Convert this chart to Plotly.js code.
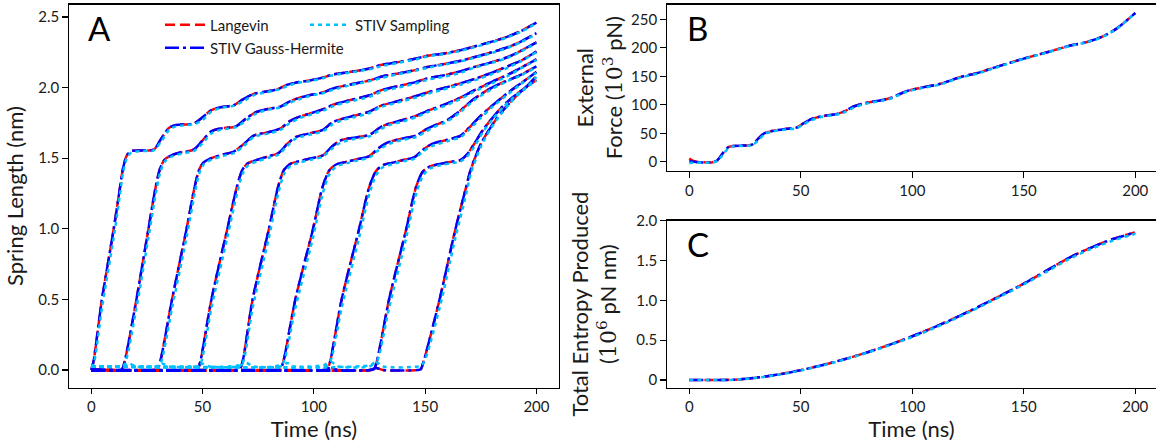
<!DOCTYPE html>
<html>
<head>
<meta charset="utf-8">
<script src="https://cdn.plot.ly/plotly-3.0.1.min.js"></script>
<style>html,body{margin:0;padding:0;background:#fff;}#chart{width:1156px;height:442px;}</style>
</head>
<body>
<div id="chart"></div>
<script>
// ---------- Panel A: spring lengths (nm) of 9 springs vs time (ns) ----------
const springTime = [
  [0, 1, 4.8, 10, 12.8, 14.3, 16, 18, 23, 28, 31.5, 35, 38, 46, 50, 54, 58, 64, 68.5, 73, 78, 84, 88, 92, 98, 104, 108, 116, 125, 130, 138, 146, 151, 158, 166, 172, 180, 187, 193, 200],
  [0, 12.5, 13.8, 15, 20.3, 25.6, 29, 31, 33, 36, 40, 46, 50, 54, 58, 65, 69.5, 74, 80, 85, 89, 93, 98, 104, 109, 116, 125, 131, 138, 146, 151, 158, 166, 172, 180, 187, 193, 200],
  [0, 28.5, 29.8, 31, 36.3, 42.7, 46.5, 48.5, 50.5, 54, 59, 64, 68.5, 73, 80, 85, 89, 93, 98, 104, 109, 116, 125, 131, 138, 146, 151, 158, 166, 172, 180, 187, 193, 200],
  [0, 46.5, 47.8, 49, 54, 61, 65.5, 68, 70.5, 75, 80, 84, 88, 92, 98, 104, 108, 112, 118, 125, 130, 138, 146, 151, 158, 166, 172, 180, 187, 193, 200],
  [0, 65.4, 66.7, 68, 72.5, 79.7, 84, 86.7, 89.5, 94, 99, 104, 108, 112, 118, 125, 130, 134, 140, 146, 151, 158, 166, 172, 180, 187, 193, 200],
  [0, 83.7, 85, 86.3, 91.7, 99.5, 104, 107, 110, 115, 120, 125, 129, 133, 140, 146, 150, 154, 160, 166, 172, 180, 187, 193, 200],
  [0, 104.7, 106, 107.3, 112.5, 120.2, 125, 128, 131, 136, 141, 145, 149, 153, 160, 166, 170, 175, 180, 187, 193, 200],
  [0, 125.7, 127, 128.3, 133.8, 141.4, 146, 149, 152, 157, 162, 166, 169, 172, 176, 180, 185, 190, 195, 200],
  [0, 14, 17, 20, 29, 32, 35, 47, 50, 53, 66, 69.5, 73, 85, 88, 91, 105, 108, 111, 125, 128, 131, 146.7, 148, 149.3, 156.5, 163.5, 168.5, 170.5, 175, 179.5, 184, 188.5, 194, 200]
];
const langevinLen = [
  [0, 0.06, 0.5, 0.99, 1.28, 1.43, 1.52, 1.55, 1.555, 1.56, 1.64, 1.715, 1.735, 1.745, 1.79, 1.84, 1.86, 1.875, 1.92, 1.955, 1.97, 1.99, 2.02, 2.035, 2.05, 2.07, 2.09, 2.11, 2.135, 2.16, 2.18, 2.205, 2.225, 2.24, 2.265, 2.29, 2.325, 2.36, 2.4, 2.46],
  [0, 0, 0.005, 0.06, 0.5, 0.99, 1.3, 1.43, 1.49, 1.52, 1.54, 1.56, 1.625, 1.69, 1.71, 1.725, 1.78, 1.825, 1.85, 1.865, 1.9, 1.925, 1.945, 1.965, 1.995, 2.02, 2.05, 2.08, 2.1, 2.125, 2.145, 2.165, 2.19, 2.215, 2.25, 2.285, 2.325, 2.385],
  [0, 0, 0.005, 0.06, 0.5, 0.99, 1.3, 1.42, 1.47, 1.5, 1.525, 1.546, 1.6, 1.66, 1.685, 1.71, 1.76, 1.79, 1.815, 1.845, 1.88, 1.91, 1.945, 1.985, 2.01, 2.04, 2.065, 2.085, 2.115, 2.145, 2.18, 2.215, 2.26, 2.32],
  [0, 0, 0.005, 0.06, 0.5, 0.99, 1.3, 1.42, 1.465, 1.49, 1.515, 1.535, 1.6, 1.65, 1.675, 1.7, 1.75, 1.775, 1.8, 1.83, 1.87, 1.905, 1.94, 1.965, 1.995, 2.03, 2.06, 2.105, 2.15, 2.19, 2.255],
  [0, 0, 0.005, 0.06, 0.5, 0.99, 1.3, 1.42, 1.46, 1.48, 1.5, 1.52, 1.58, 1.625, 1.645, 1.665, 1.72, 1.745, 1.77, 1.8, 1.835, 1.875, 1.93, 1.98, 2.04, 2.09, 2.14, 2.2],
  [0, 0, 0.005, 0.06, 0.5, 0.99, 1.3, 1.415, 1.455, 1.475, 1.495, 1.515, 1.57, 1.61, 1.64, 1.66, 1.7, 1.73, 1.77, 1.84, 1.92, 2.0, 2.05, 2.09, 2.15],
  [0, 0, 0.005, 0.06, 0.5, 0.99, 1.3, 1.41, 1.45, 1.47, 1.49, 1.505, 1.56, 1.6, 1.63, 1.66, 1.72, 1.8, 1.87, 1.96, 2.03, 2.11],
  [0, 0, 0.005, 0.06, 0.5, 0.99, 1.3, 1.405, 1.44, 1.46, 1.475, 1.487, 1.53, 1.6, 1.7, 1.78, 1.87, 1.94, 2.0, 2.08],
  [0, 0, 0, 0, 0, 0, 0, 0, 0, 0, 0, 0, 0, 0, 0, 0, 0, 0.012, 0, 0, 0.014, 0, 0, 0.005, 0.06, 0.5, 0.99, 1.3, 1.42, 1.6, 1.72, 1.82, 1.9, 1.985, 2.055]
];
const gaussHermiteLen = [
  [0, 0.06, 0.5, 0.99, 1.28, 1.43, 1.52, 1.55, 1.555, 1.56, 1.64, 1.715, 1.735, 1.745, 1.79, 1.84, 1.86, 1.875, 1.92, 1.955, 1.97, 1.99, 2.02, 2.035, 2.05, 2.07, 2.09, 2.11, 2.135, 2.16, 2.18, 2.205, 2.225, 2.24, 2.265, 2.29, 2.325, 2.36, 2.4, 2.46],
  [0, 0, 0.005, 0.06, 0.5, 0.99, 1.3, 1.43, 1.49, 1.52, 1.54, 1.56, 1.625, 1.69, 1.71, 1.725, 1.78, 1.825, 1.85, 1.865, 1.9, 1.925, 1.945, 1.965, 1.995, 2.02, 2.05, 2.08, 2.1, 2.125, 2.145, 2.165, 2.19, 2.215, 2.25, 2.285, 2.325, 2.385],
  [0, 0, 0.005, 0.06, 0.5, 0.99, 1.3, 1.42, 1.47, 1.5, 1.525, 1.546, 1.6, 1.66, 1.685, 1.71, 1.76, 1.79, 1.815, 1.845, 1.88, 1.91, 1.945, 1.985, 2.01, 2.04, 2.065, 2.085, 2.115, 2.145, 2.18, 2.215, 2.26, 2.32],
  [0, 0, 0.005, 0.06, 0.5, 0.99, 1.3, 1.42, 1.465, 1.49, 1.515, 1.535, 1.6, 1.65, 1.675, 1.7, 1.75, 1.775, 1.8, 1.83, 1.87, 1.905, 1.94, 1.965, 1.995, 2.03, 2.06, 2.105, 2.15, 2.19, 2.255],
  [0, 0, 0.005, 0.06, 0.5, 0.99, 1.3, 1.42, 1.46, 1.48, 1.5, 1.52, 1.58, 1.625, 1.645, 1.665, 1.72, 1.745, 1.77, 1.8, 1.835, 1.875, 1.93, 1.98, 2.04, 2.09, 2.14, 2.2],
  [0, 0, 0.005, 0.06, 0.5, 0.99, 1.3, 1.415, 1.455, 1.475, 1.495, 1.515, 1.57, 1.61, 1.64, 1.66, 1.7, 1.73, 1.77, 1.84, 1.92, 2.0, 2.05, 2.09, 2.15],
  [0, 0, 0.005, 0.06, 0.5, 0.99, 1.3, 1.41, 1.45, 1.47, 1.49, 1.505, 1.56, 1.6, 1.63, 1.66, 1.72, 1.8, 1.87, 1.96, 2.03, 2.11],
  [0, 0, 0.005, 0.06, 0.5, 0.99, 1.3, 1.405, 1.44, 1.46, 1.475, 1.487, 1.53, 1.6, 1.7, 1.78, 1.87, 1.94, 2.0, 2.08],
  [0, 0, 0, 0, 0, 0, 0, 0, 0, 0, 0, 0, 0, 0, 0, 0, 0, 0.012, 0, 0, 0.014, 0, 0, 0.005, 0.06, 0.5, 0.99, 1.3, 1.42, 1.6, 1.72, 1.82, 1.9, 1.985, 2.055]
];
const samplingLen = [
  [0.02, 0.04, 0.44, 0.93, 1.23, 1.40, 1.50, 1.54, 1.55, 1.555, 1.62, 1.70, 1.725, 1.74, 1.77, 1.83, 1.855, 1.87, 1.905, 1.945, 1.965, 1.985, 2.01, 2.03, 2.045, 2.065, 2.085, 2.105, 2.13, 2.15, 2.175, 2.2, 2.22, 2.235, 2.26, 2.285, 2.32, 2.355, 2.395, 2.455],
  [0.025, 0.025, 0.025, 0.04, 0.44, 0.93, 1.25, 1.40, 1.475, 1.51, 1.53, 1.55, 1.605, 1.675, 1.70, 1.72, 1.765, 1.815, 1.845, 1.86, 1.89, 1.915, 1.94, 1.96, 1.985, 2.015, 2.045, 2.07, 2.095, 2.12, 2.14, 2.16, 2.185, 2.21, 2.245, 2.28, 2.32, 2.38],
  [0.025, 0.025, 0.025, 0.04, 0.44, 0.93, 1.25, 1.39, 1.455, 1.49, 1.515, 1.535, 1.585, 1.65, 1.675, 1.70, 1.745, 1.78, 1.805, 1.835, 1.87, 1.9, 1.935, 1.975, 2.0, 2.03, 2.055, 2.075, 2.105, 2.14, 2.175, 2.21, 2.255, 2.315],
  [0.025, 0.025, 0.025, 0.04, 0.44, 0.93, 1.25, 1.39, 1.45, 1.48, 1.505, 1.525, 1.585, 1.64, 1.665, 1.69, 1.735, 1.765, 1.79, 1.82, 1.86, 1.895, 1.93, 1.955, 1.985, 2.02, 2.05, 2.095, 2.14, 2.185, 2.25],
  [0.025, 0.03, 0.04, 0.05, 0.44, 0.93, 1.25, 1.39, 1.445, 1.47, 1.49, 1.51, 1.565, 1.61, 1.635, 1.655, 1.705, 1.735, 1.76, 1.79, 1.825, 1.865, 1.92, 1.97, 2.03, 2.08, 2.135, 2.195],
  [0.025, 0.03, 0.045, 0.055, 0.44, 0.93, 1.25, 1.385, 1.44, 1.465, 1.485, 1.505, 1.555, 1.595, 1.63, 1.65, 1.685, 1.72, 1.76, 1.83, 1.91, 1.99, 2.045, 2.085, 2.145],
  [0.025, 0.035, 0.05, 0.06, 0.44, 0.93, 1.25, 1.38, 1.435, 1.46, 1.48, 1.495, 1.545, 1.585, 1.62, 1.65, 1.705, 1.785, 1.86, 1.95, 2.025, 2.105],
  [0.025, 0.035, 0.05, 0.06, 0.44, 0.93, 1.25, 1.375, 1.425, 1.45, 1.465, 1.477, 1.515, 1.58, 1.685, 1.77, 1.86, 1.935, 1.995, 2.075],
  [0.025, 0.025, 0.045, 0.025, 0.025, 0.045, 0.025, 0.025, 0.045, 0.025, 0.025, 0.05, 0.025, 0.025, 0.05, 0.025, 0.025, 0.055, 0.025, 0.025, 0.055, 0.025, 0.025, 0.035, 0.05, 0.44, 0.93, 1.25, 1.39, 1.58, 1.71, 1.81, 1.895, 1.98, 2.05]
];

// ---------- Panel B: external force (10^3 pN) ----------
const forceTime = [0, 1.5, 3.4, 6, 10, 12.6, 15, 17.6, 20, 24, 27, 28.6, 31, 33.6, 37, 43.7, 48, 51, 54.6, 59.7, 65.5, 69, 74, 79, 87.4, 90.8, 97.5, 104, 111.8, 116, 121, 129.4, 137.8, 149.6, 161.3, 171.4, 178, 185, 191.6, 200];
const forceLangevin = [5.8, 2, 0, -0.5, -1, 3, 15, 26, 28, 28.5, 29, 31, 41, 50, 54, 58, 60, 67, 75, 80, 83.5, 87.6, 97.5, 103, 109, 112.7, 124, 130, 136, 141, 148, 156, 166.5, 180.5, 193, 204.4, 209.7, 219, 233.6, 261];
const forceGaussHermite = [1, 0.5, -0.5, -1, -1, 3, 15, 26, 28, 28.5, 29, 31, 41, 50, 54, 58, 60, 67, 75, 80, 83.5, 87.6, 97.5, 103, 109, 112.7, 124, 130, 136, 141, 148, 156, 166.5, 180.5, 193, 204.4, 209.7, 219, 233.6, 261];
const forceSampling = [-2, -1.5, -1.5, -1.5, -1.5, 1.5, 12, 24, 27.5, 28, 28.5, 30, 38, 48, 53, 57, 59, 65, 73, 79, 82.5, 86, 95.5, 102, 108, 111.5, 123, 129, 135, 140, 147, 155, 165.5, 180, 192.5, 204, 209.5, 218.5, 233, 261];

// ---------- Panel C: total entropy produced (10^6 pN nm) ----------
const entropyTime = [0, 10, 20, 30, 40, 50, 60, 70, 80, 90, 100, 110, 120, 130, 140, 150, 160, 170, 180, 190, 200];
const entropyLangevin = [0, 0, 0.005, 0.03, 0.07, 0.125, 0.19, 0.265, 0.35, 0.445, 0.55, 0.665, 0.79, 0.925, 1.065, 1.21, 1.37, 1.53, 1.66, 1.77, 1.855];
const entropyGaussHermite = [0, 0, 0.005, 0.03, 0.07, 0.125, 0.19, 0.265, 0.35, 0.445, 0.55, 0.665, 0.79, 0.925, 1.065, 1.21, 1.37, 1.53, 1.66, 1.77, 1.85];
const entropySampling = [0, 0, 0.004, 0.028, 0.067, 0.12, 0.185, 0.26, 0.345, 0.44, 0.54, 0.655, 0.78, 0.915, 1.055, 1.2, 1.355, 1.515, 1.645, 1.75, 1.835];

const seriesNames = ['Langevin', 'STIV Gauss-Hermite', 'STIV Sampling'];
const xTicks = [0, 50, 100, 150, 200];

// ---------- styles ----------
const FONT = 'Lato, "Open Sans", sans-serif';
const TXT = '#1a1a1a';
const styles = [
  {color: '#ff0000', width: 2.5, dash: '10px,5px', legend: 'legend'},
  {color: '#0000ff', width: 2.5, dash: '14px,4px,3px,4px', legend: 'legend2'},
  {color: '#00bfff', width: 2.5, dash: '4px,4px', legend: 'legend3'}
];

const traces = [];
const springSeries = [langevinLen, gaussHermiteLen, samplingLen];
springSeries.forEach((series, s) => {
  series.forEach((vals, i) => {
    traces.push({
      x: springTime[i], y: vals, xaxis: 'x', yaxis: 'y', mode: 'lines',
      name: seriesNames[s], legend: styles[s].legend, showlegend: i === 0,
      line: {color: styles[s].color, width: styles[s].width, dash: styles[s].dash, shape: 'spline', smoothing: 0.8},
      hoverinfo: 'skip'
    });
  });
});
[forceLangevin, forceGaussHermite, forceSampling].forEach((vals, s) => {
  traces.push({x: forceTime, y: vals, xaxis: 'x2', yaxis: 'y2', mode: 'lines', showlegend: false,
    line: {color: styles[s].color, width: styles[s].width, dash: styles[s].dash, shape: 'spline', smoothing: 0.8}, hoverinfo: 'skip'});
});
[entropyLangevin, entropyGaussHermite, entropySampling].forEach((vals, s) => {
  traces.push({x: entropyTime, y: vals, xaxis: 'x3', yaxis: 'y3', mode: 'lines', showlegend: false,
    line: {color: styles[s].color, width: styles[s].width, dash: styles[s].dash, shape: 'spline', smoothing: 0.8}, hoverinfo: 'skip'});
});

const W = 1156, H = 442;
const px = v => v / W;
const py = v => 1 - v / H;

const axBase = {
  showgrid: false, zeroline: false, showline: true, linecolor: '#000', linewidth: 1.3,
  mirror: true, ticks: 'outside', ticklen: 5.5, tickwidth: 1.2, tickcolor: '#000',
  tickfont: {family: FONT, size: 15, color: TXT}, fixedrange: true
};
const titleFont = {family: FONT, size: 22, color: TXT};
const legendFont = {family: FONT, size: 15, color: TXT};

const layout = {
  width: W, height: H,
  margin: {l: 0, r: 0, t: 0, b: 0},
  paper_bgcolor: '#fff', plot_bgcolor: '#fff',
  font: {family: FONT, color: TXT},
  xaxis: Object.assign({}, axBase, {domain: [px(69), px(558.7)], range: [-10, 210], anchor: 'y',
    tickvals: xTicks, title: {text: 'Time (ns)', font: titleFont, standoff: 2}}),
  yaxis: Object.assign({}, axBase, {domain: [py(387.5), py(4.5)], range: [-0.124, 2.588], anchor: 'x',
    tickvals: [0, 0.5, 1, 1.5, 2, 2.5], ticktext: ['0.0', '0.5', '1.0', '1.5', '2.0', '2.5'],
    title: {text: 'Spring Length (nm)', font: titleFont, standoff: 8}}),
  xaxis2: Object.assign({}, axBase, {domain: [px(667), 1], range: [-10, 209.3], anchor: 'y2', tickvals: xTicks}),
  yaxis2: Object.assign({}, axBase, {domain: [py(170.7), py(4.7)], range: [-15.5, 275.5], anchor: 'x2',
    tickvals: [0, 50, 100, 150, 200, 250],
    title: {text: 'External<br>Force (<span style="font-family:\'DejaVu Serif\'">10<sup>3</sup></span> pN)', font: titleFont, standoff: 2}}),
  xaxis3: Object.assign({}, axBase, {domain: [px(667), 1], range: [-10, 209.3], anchor: 'y3', tickvals: xTicks,
    title: {text: 'Time (ns)', font: titleFont, standoff: 2}}),
  yaxis3: Object.assign({}, axBase, {domain: [py(387.5), py(220.7)], range: [-0.093, 2.0], anchor: 'x3',
    tickvals: [0, 0.5, 1, 1.5, 2], ticktext: ['0', '0.5', '1.0', '1.5', '2.0'],
    title: {text: 'Total Entropy Produced<br>(<span style="font-family:\'DejaVu Serif\'">10<sup>6</sup></span> pN nm)', font: titleFont, standoff: 13}}),
  legend: {x: px(160), y: py(25), xanchor: 'left', yanchor: 'middle', bgcolor: 'rgba(0,0,0,0)', borderwidth: 0,
    itemwidth: 40, font: legendFont},
  legend2: {x: px(160), y: py(48), xanchor: 'left', yanchor: 'middle', bgcolor: 'rgba(0,0,0,0)', borderwidth: 0,
    itemwidth: 40, font: legendFont},
  legend3: {x: px(305), y: py(25), xanchor: 'left', yanchor: 'middle', bgcolor: 'rgba(0,0,0,0)', borderwidth: 0,
    itemwidth: 40, font: legendFont},
  annotations: [
    {text: 'A', x: px(86), y: py(6), xref: 'paper', yref: 'paper', xanchor: 'left', yanchor: 'top', showarrow: false, font: {family: FONT, size: 33, color: '#000'}},
    {text: 'B', x: px(685), y: py(6), xref: 'paper', yref: 'paper', xanchor: 'left', yanchor: 'top', showarrow: false, font: {family: FONT, size: 33, color: '#000'}},
    {text: 'C', x: px(685), y: py(222), xref: 'paper', yref: 'paper', xanchor: 'left', yanchor: 'top', showarrow: false, font: {family: FONT, size: 33, color: '#000'}}
  ]
};

Plotly.newPlot('chart', traces, layout, {staticPlot: true, displayModeBar: false});
</script>
</body>
</html>
